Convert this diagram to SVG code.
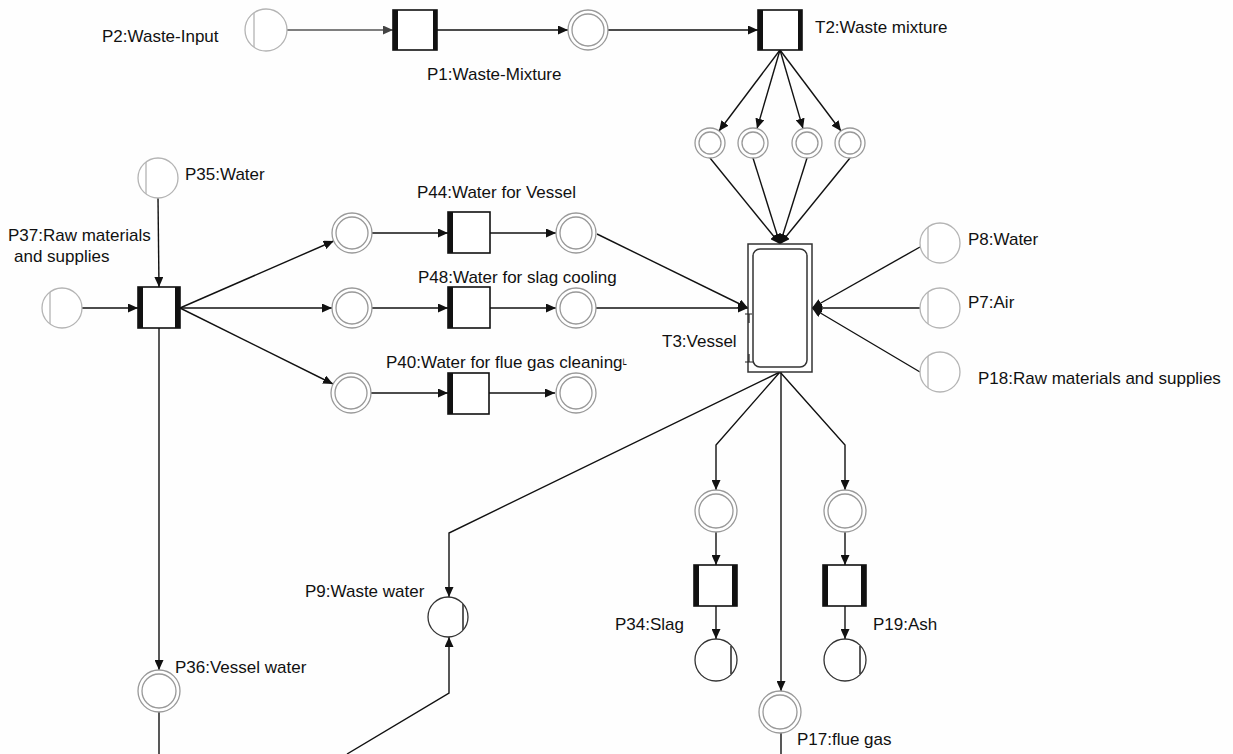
<svg xmlns="http://www.w3.org/2000/svg" width="1233" height="754" viewBox="0 0 1233 754">
<defs>
<style>
.bg{fill:#fefefe}
.in{fill:#fff;stroke:#b4b4b4;stroke-width:1.3}
.inl{stroke:#b4b4b4;stroke-width:1.3}
.dbl{fill:#fff;stroke:#999;stroke-width:1.3}
.out{fill:#fff;stroke:#333;stroke-width:1.3}
.outl{stroke:#333;stroke-width:1.6}
.tr{fill:#fff;stroke:#111;stroke-width:1.6}
.bar{fill:#111}
.e{fill:none;stroke:#111;stroke-width:1.4;marker-end:url(#ah)}
.n{fill:none;stroke:#111;stroke-width:1.4}
.g{fill:none;stroke:#555;stroke-width:1.4;marker-end:url(#ahg)}
text{font-family:"Liberation Sans",Arial,sans-serif;font-size:17px;fill:#111}
</style>
<marker id="ah" markerUnits="userSpaceOnUse" markerWidth="11" markerHeight="9" refX="10" refY="4.5" orient="auto"><path d="M0,0 L10,4.5 L0,9 z" fill="#111"/></marker>
<marker id="ahg" markerUnits="userSpaceOnUse" markerWidth="11" markerHeight="9" refX="10" refY="4.5" orient="auto"><path d="M0,0 L10,4.5 L0,9 z" fill="#444"/></marker>
</defs>
<rect class="bg" x="0" y="0" width="1233" height="754"/>

<g id="connectors">
<line class="g" x1="287" y1="30" x2="393" y2="30"/>
<line class="e" x1="437" y1="30" x2="568" y2="30"/>
<line class="e" x1="608" y1="30" x2="758" y2="30"/>
<line class="e" x1="780" y1="50" x2="719" y2="131"/>
<line class="e" x1="780" y1="50" x2="757" y2="128.6"/>
<line class="e" x1="780" y1="50" x2="803" y2="128.6"/>
<line class="e" x1="780" y1="50" x2="841" y2="131"/>
<line class="e" x1="710" y1="158" x2="780" y2="244"/>
<line class="e" x1="753" y1="158" x2="780" y2="244"/>
<line class="e" x1="807" y1="158" x2="780" y2="244"/>
<line class="e" x1="850" y1="158" x2="780" y2="244"/>
<line class="e" x1="158" y1="198" x2="159" y2="287"/>
<line class="e" x1="82" y1="308" x2="138" y2="308"/>
<line class="e" x1="180" y1="308" x2="333.7" y2="241"/>
<line class="e" x1="180" y1="308" x2="332" y2="308"/>
<line class="e" x1="180" y1="308" x2="333" y2="384"/>
<line class="e" x1="372" y1="233" x2="448" y2="233"/>
<line class="e" x1="490" y1="233" x2="556" y2="233"/>
<line class="e" x1="372" y1="308" x2="448" y2="308"/>
<line class="e" x1="490" y1="308" x2="556" y2="308"/>
<line class="e" x1="371" y1="393" x2="448" y2="393"/>
<line class="e" x1="489" y1="393" x2="555" y2="393"/>
<line class="e" x1="597" y1="234" x2="748" y2="308"/>
<line class="e" x1="596" y1="308" x2="748" y2="308"/>
<line class="e" x1="920" y1="247" x2="812" y2="308"/>
<line class="e" x1="920" y1="308" x2="812" y2="308"/>
<line class="e" x1="920" y1="372" x2="812" y2="308"/>
<polyline class="e" points="780,372 716,445 716,490"/>
<line class="e" x1="716" y1="532" x2="716" y2="565"/>
<line class="e" x1="716" y1="606" x2="716" y2="639"/>
<polyline class="e" points="780,372 845,445 845,490"/>
<line class="e" x1="845" y1="532" x2="845" y2="565"/>
<line class="e" x1="845" y1="606" x2="845" y2="639"/>
<line class="e" x1="781" y1="372" x2="781" y2="691"/>
<line class="n" x1="781" y1="733" x2="781" y2="754"/>
<polyline class="e" points="780,372 449,533 449,597"/>
<polyline class="e" points="347,754 449,693 449,637"/>
<line class="e" x1="159" y1="328" x2="159" y2="670"/>
<line class="n" x1="159" y1="712" x2="159" y2="754"/>
</g>

<g id="P2">
<circle class="in" cx="266" cy="30" r="21"/>
<line class="inl" x1="254" y1="13" x2="254" y2="47"/>
<text x="102" y="42">P2:Waste-Input</text>
</g>

<g id="P1">
<rect class="tr" x="393" y="10" width="44" height="40"/>
<rect class="bar" x="393" y="10" width="5" height="40"/>
<rect class="bar" x="433" y="10" width="4" height="40"/>
<text x="427" y="80">P1:Waste-Mixture</text>
</g>

<g id="M1">
<circle class="dbl" cx="588" cy="30" r="20"/>
<circle class="dbl" cx="588" cy="30" r="16"/>
</g>

<g id="T2">
<rect class="tr" x="758" y="10" width="44" height="40"/>
<rect class="bar" x="758" y="10" width="5" height="40"/>
<rect class="bar" x="798" y="10" width="4" height="40"/>
<text x="815" y="33">T2:Waste mixture</text>
</g>

<g id="M2"><circle class="dbl" cx="710" cy="143" r="15"/><circle class="dbl" cx="710" cy="143" r="11"/></g>
<g id="M3"><circle class="dbl" cx="753" cy="143" r="15"/><circle class="dbl" cx="753" cy="143" r="11"/></g>
<g id="M4"><circle class="dbl" cx="807" cy="143" r="15"/><circle class="dbl" cx="807" cy="143" r="11"/></g>
<g id="M5"><circle class="dbl" cx="850" cy="143" r="15"/><circle class="dbl" cx="850" cy="143" r="11"/></g>

<g id="T3">
<rect x="748" y="244" width="64" height="128" fill="#fff" stroke="#333" stroke-width="1.5"/>
<rect x="753" y="249" width="54" height="118" rx="7" fill="#fff" stroke="#333" stroke-width="1.5"/>
<path d="M745 314 H752 M749 314 V323 M745 362 H753 M749 354 V362" fill="none" stroke="#222" stroke-width="1.2"/>
<text x="662" y="347">T3:Vessel</text>
</g>

<g id="P35">
<circle class="in" cx="158" cy="178" r="20"/>
<line class="inl" x1="146" y1="162" x2="146" y2="194"/>
<text x="185" y="180">P35:Water</text>
</g>

<g id="P37">
<circle class="in" cx="62" cy="308" r="20"/>
<line class="inl" x1="50" y1="292" x2="50" y2="324"/>
<text x="8" y="241">P37:Raw materials</text>
<text x="14" y="262">and supplies</text>
</g>

<g id="T37">
<rect class="tr" x="138" y="287" width="42" height="41"/>
<rect class="bar" x="138" y="287" width="5" height="41"/>
<rect class="bar" x="175" y="287" width="5" height="41"/>
</g>

<g id="M44a"><circle class="dbl" cx="352" cy="233" r="20"/><circle class="dbl" cx="352" cy="233" r="16"/></g>
<g id="P44">
<rect class="tr" x="448" y="212" width="42" height="41"/>
<rect class="bar" x="448" y="212" width="5" height="41"/>
<text x="417" y="198">P44:Water for Vessel</text>
</g>
<g id="M44b"><circle class="dbl" cx="576" cy="233" r="20"/><circle class="dbl" cx="576" cy="233" r="16"/></g>

<g id="M48a"><circle class="dbl" cx="352" cy="308" r="20"/><circle class="dbl" cx="352" cy="308" r="16"/></g>
<g id="P48">
<rect class="tr" x="448" y="287" width="42" height="41"/>
<rect class="bar" x="448" y="287" width="5" height="41"/>
<text x="418" y="283">P48:Water for slag cooling</text>
</g>
<g id="M48b"><circle class="dbl" cx="576" cy="308" r="20"/><circle class="dbl" cx="576" cy="308" r="16"/></g>

<g id="M40a"><circle class="dbl" cx="351" cy="393" r="20"/><circle class="dbl" cx="351" cy="393" r="16"/></g>
<g id="P40">
<rect class="tr" x="448" y="373" width="41" height="41"/>
<rect class="bar" x="448" y="373" width="5" height="41"/>
<text x="386" y="368">P40:Water for flue gas cleaning<tspan font-family="DejaVu Sans" font-size="14" dy="-3">˪</tspan></text>
</g>
<g id="M40b"><circle class="dbl" cx="576" cy="393" r="20"/><circle class="dbl" cx="576" cy="393" r="16"/></g>

<g id="P8">
<circle class="in" cx="940" cy="243" r="20"/>
<line class="inl" x1="928" y1="227" x2="928" y2="259"/>
<text x="968" y="245">P8:Water</text>
</g>
<g id="P7">
<circle class="in" cx="940" cy="308" r="20"/>
<line class="inl" x1="928" y1="292" x2="928" y2="324"/>
<text x="968" y="308">P7:Air</text>
</g>
<g id="P18">
<circle class="in" cx="940" cy="372" r="20"/>
<line class="inl" x1="928" y1="356" x2="928" y2="388"/>
<text x="978" y="384">P18:Raw materials and supplies</text>
</g>

<g id="M34"><circle class="dbl" cx="716" cy="511" r="21"/><circle class="dbl" cx="716" cy="511" r="17"/></g>
<g id="P34">
<rect class="tr" x="694" y="565" width="43" height="41"/>
<rect class="bar" x="694" y="565" width="5" height="41"/>
<rect class="bar" x="732" y="565" width="5" height="41"/>
<text x="615" y="630">P34:Slag</text>
</g>
<g id="S34">
<circle class="out" cx="716" cy="660" r="21"/>
<line class="outl" x1="731" y1="646" x2="731" y2="674"/>
</g>

<g id="M19"><circle class="dbl" cx="845" cy="511" r="21"/><circle class="dbl" cx="845" cy="511" r="17"/></g>
<g id="P19">
<rect class="tr" x="823" y="565" width="43" height="41"/>
<rect class="bar" x="823" y="565" width="5" height="41"/>
<rect class="bar" x="861" y="565" width="5" height="41"/>
<text x="873" y="630">P19:Ash</text>
</g>
<g id="S19">
<circle class="out" cx="845" cy="660" r="21"/>
<line class="outl" x1="860" y1="646" x2="860" y2="674"/>
</g>

<g id="P17">
<circle class="dbl" cx="780" cy="712" r="21"/>
<circle class="dbl" cx="780" cy="712" r="17"/>
<text x="797" y="745">P17:flue gas</text>
</g>

<g id="P9">
<circle class="out" cx="448" cy="617" r="20"/>
<line class="outl" x1="463" y1="604" x2="463" y2="630"/>
<text x="305" y="597">P9:Waste water</text>
</g>

<g id="P36">
<circle class="dbl" cx="159" cy="691" r="21"/>
<circle class="dbl" cx="159" cy="691" r="17"/>
<text x="175" y="673">P36:Vessel water</text>
</g>
</svg>
